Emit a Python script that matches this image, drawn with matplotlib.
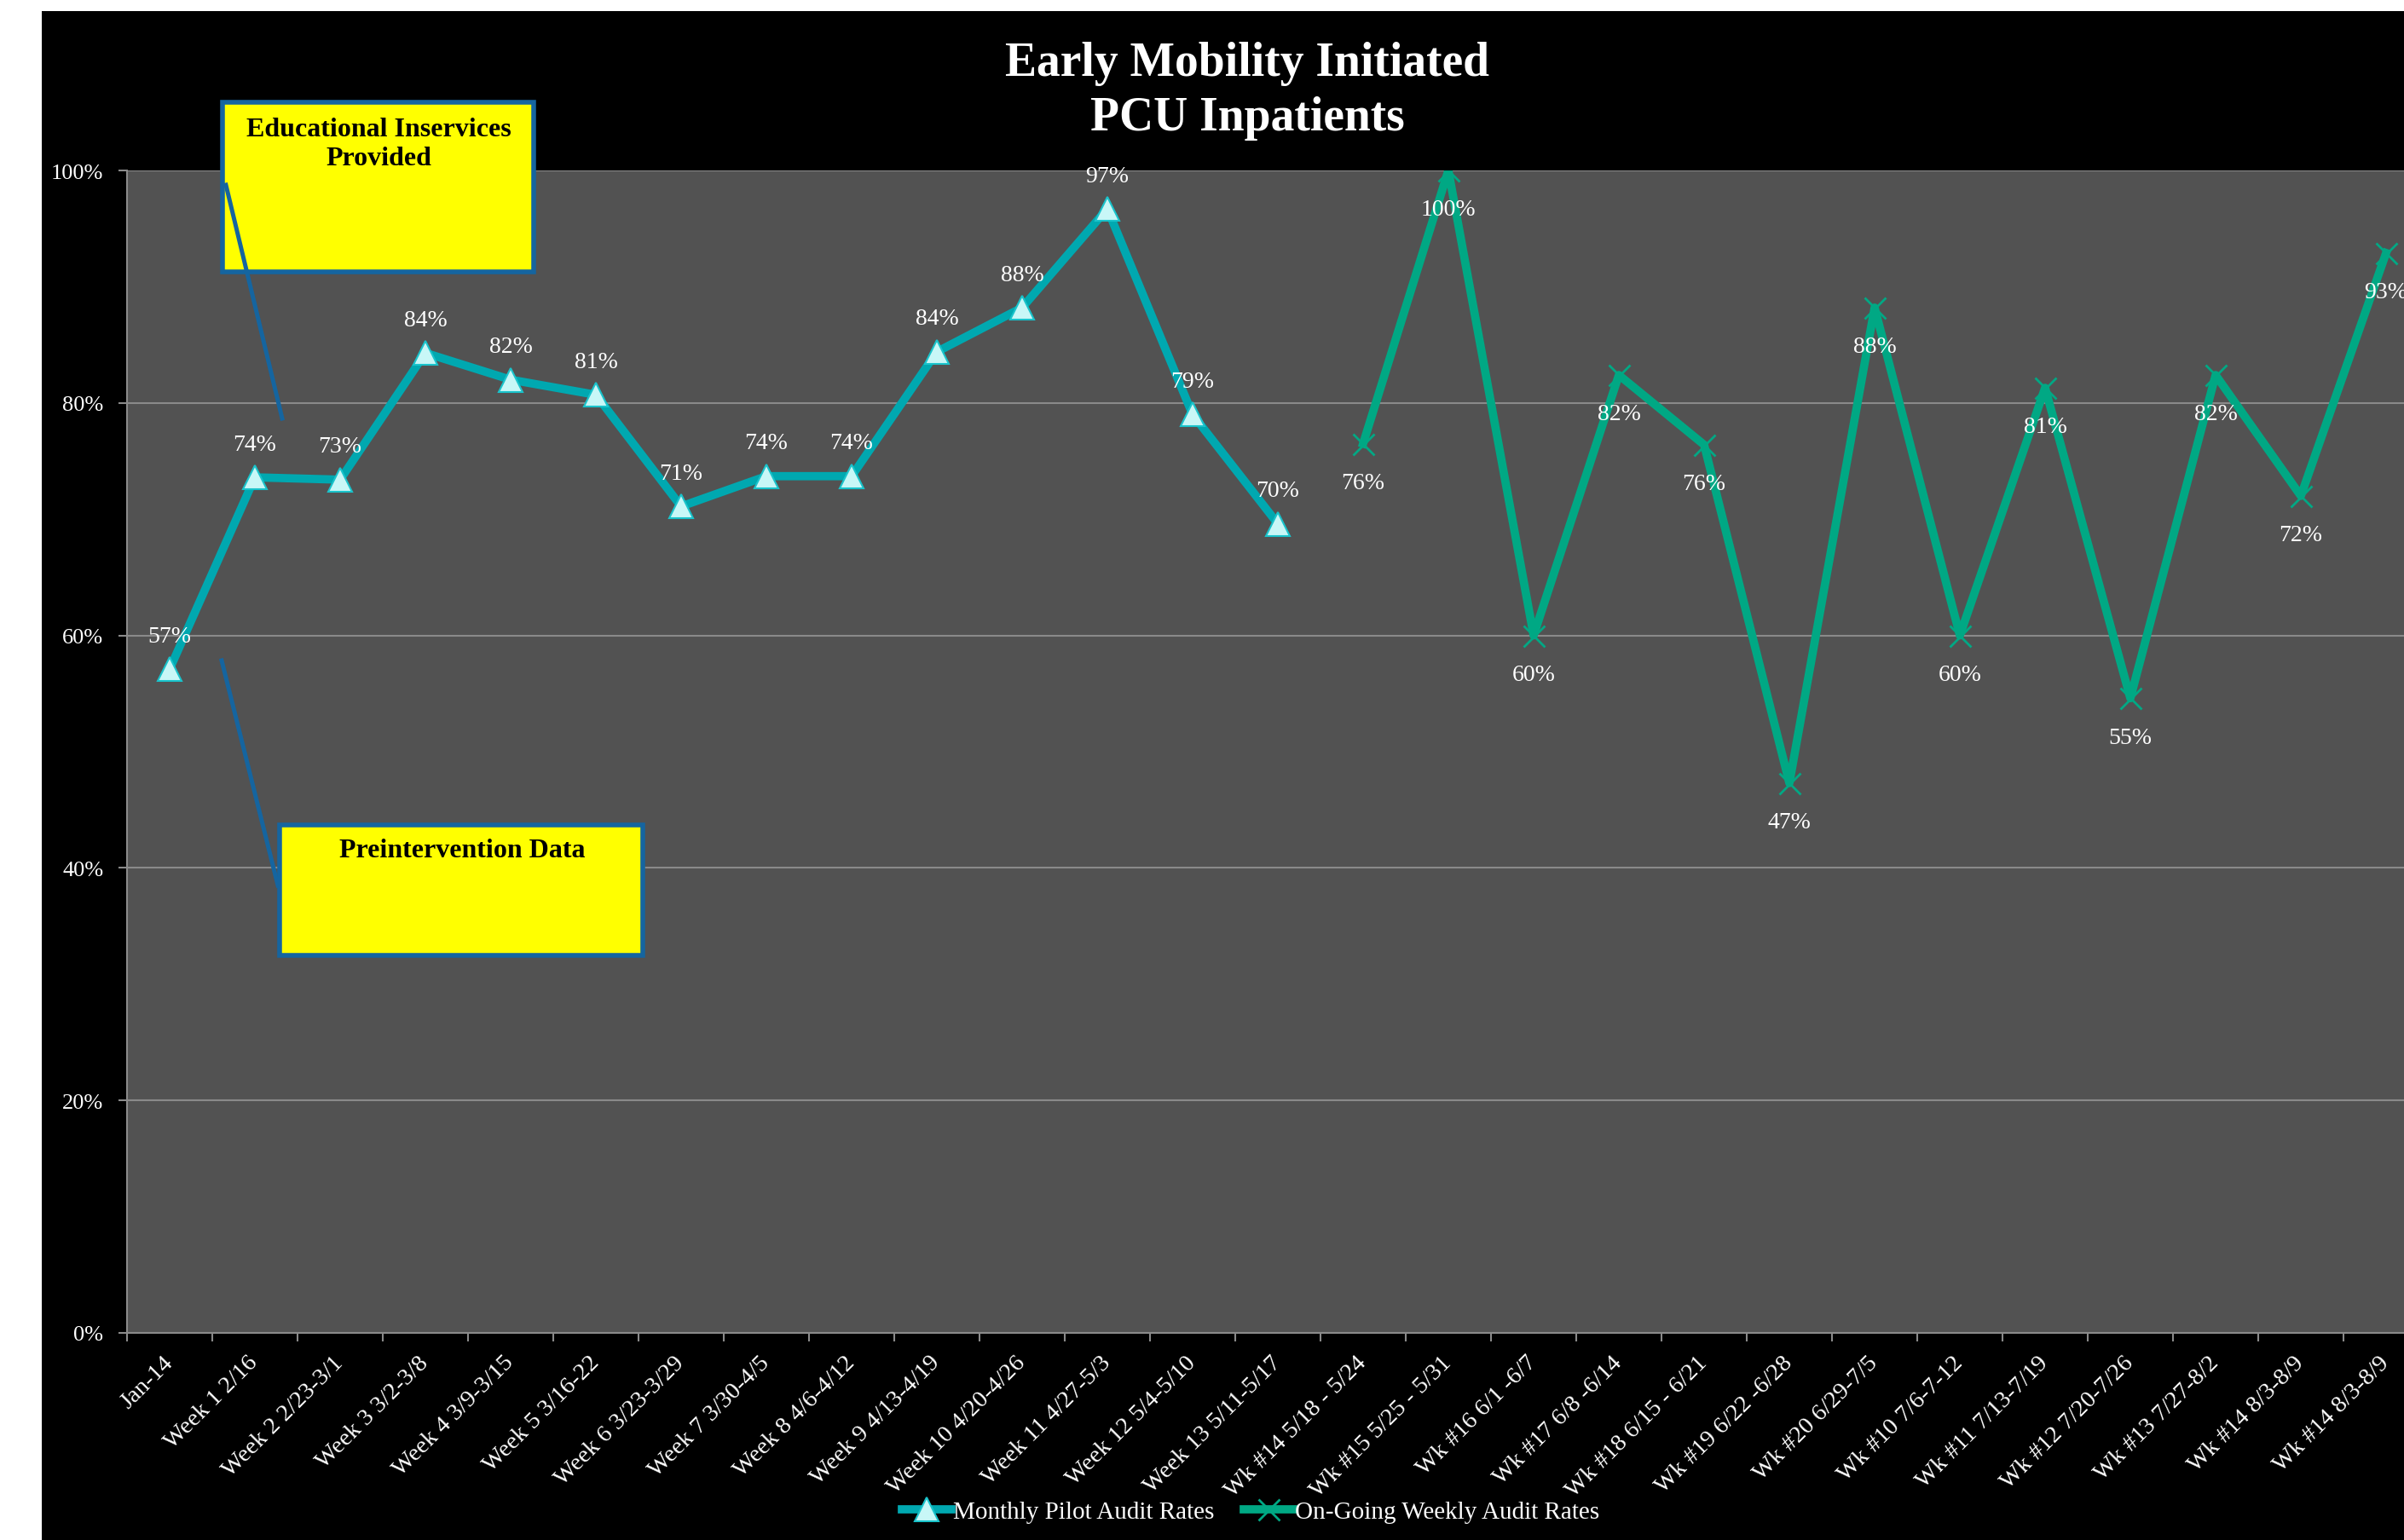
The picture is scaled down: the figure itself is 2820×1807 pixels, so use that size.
import numpy as np
import matplotlib.pyplot as plt
from matplotlib.patches import Rectangle
from matplotlib.lines import Line2D

categories = [
    'Jan-14', 'Week 1 2/16', 'Week 2 2/23-3/1', 'Week 3 3/2-3/8', 'Week 4 3/9-3/15',
    'Week 5 3/16-22', 'Week 6 3/23-3/29', 'Week 7 3/30-4/5', 'Week 8 4/6-4/12',
    'Week 9 4/13-4/19', 'Week 10 4/20-4/26', 'Week 11 4/27-5/3', 'Week 12 5/4-5/10',
    'Week 13 5/11-5/17', 'Wk #14 5/18 - 5/24', 'Wk #15 5/25 - 5/31', 'Wk #16 6/1 -6/7',
    'Wk #17 6/8 -6/14', 'Wk #18 6/15 - 6/21', 'Wk #19 6/22 -6/28', 'Wk #20 6/29-7/5',
    'Wk #10 7/6-7-12', 'Wk #11 7/13-7/19', 'Wk #12 7/20-7/26', 'Wk #13 7/27-8/2',
    'Wk #14 8/3-8/9', 'Wk #14 8/3-8/9',
]
# percent values
pilot_rates = [57.1, 73.6, 73.4, 84.3, 82.0, 80.7, 71.1, 73.7, 73.7, 84.4, 88.2, 96.7, 79.0, 69.6]
weekly_rates = [76.5, 100.0, 60.0, 82.4, 76.4, 47.3, 88.2, 60.0, 81.3, 54.6, 82.4, 72.0, 92.9]
y_ticks = [0, 20, 40, 60, 80, 100]

W, H = 2820, 1808


def fx(px):
    return px / W


def fy(py):
    return 1 - py / H


plt.rcParams['font.family'] = ['Liberation Serif', 'DejaVu Serif']

fig = plt.figure(figsize=(W / 100, H / 100), dpi=100, facecolor='white')
fig.add_artist(Rectangle((fx(49), 0), 1 - fx(49), fy(14), transform=fig.transFigure,
                         facecolor='black', edgecolor='none', zorder=-10))

ax = fig.add_axes([fx(149), fy(1565), 2700 / W, (1565 - 201) / H])
ax.set_facecolor('#525252')

pilot_x = np.arange(len(pilot_rates))
weekly_x = np.arange(len(pilot_rates), len(categories))

ax.plot(pilot_x, pilot_rates, color='#00a8b0', lw=7, marker='^', ms=20,
        mfc='#c8f7f7', mec='#19c3cb', mew=1.5, label='Monthly Pilot Audit Rates', zorder=3)
ax.plot(weekly_x, weekly_rates, color='#00a884', lw=7, marker='x', ms=18,
        mec='#00a884', mew=2, label='On-Going Weekly Audit Rates', zorder=3)

for x, v in zip(pilot_x, pilot_rates):
    ax.annotate(f'{round(v)}%', (x, v), xytext=(0, 28), textcoords='offset points',
                ha='center', va='center', color='white', fontsize=20, zorder=4)
for x, v in zip(weekly_x, weekly_rates):
    ax.annotate(f'{round(v)}%', (x, v), xytext=(0, -33), textcoords='offset points',
                ha='center', va='center', color='white', fontsize=20, zorder=4)

ax.set_xlim(-0.5, len(categories) - 0.5)
ax.set_ylim(0, 100)
ax.set_yticks(y_ticks)
ax.set_yticklabels([f'{v}%' for v in y_ticks])
ax.yaxis.grid(True, color='#8a8a8a', lw=1.5)
ax.set_axisbelow(True)

ax.set_xticks(np.arange(len(categories)))
ax.set_xticklabels(categories, rotation=45, ha='right', va='center',
                   rotation_mode='anchor', fontsize=20.5, color='white')
ax.set_xticks(np.arange(-0.5, len(categories)), minor=True)
ax.tick_params(axis='x', which='major', length=0, pad=22)
ax.tick_params(axis='x', which='minor', length=7, color='#8a8a8a', width=1.5)
ax.tick_params(axis='y', length=7, color='#8a8a8a', width=1.5, labelsize=19,
               labelcolor='white', pad=13)

for s in ['top', 'right']:
    ax.spines[s].set_visible(False)
for s in ['left', 'bottom']:
    ax.spines[s].set_color('#8a8a8a')
    ax.spines[s].set_linewidth(1.5)

fig.text(fx(1463), fy(107), 'Early Mobility Initiated\nPCU Inpatients', ha='center',
         va='center', fontsize=40, fontweight='bold', color='white', linespacing=1.32)

# callout boxes
box_edge = '#1565a0'
fig.add_artist(Rectangle((fx(261), fy(320)), fx(626) - fx(261), fy(121) - fy(320),
                         transform=fig.transFigure, facecolor='#ffff00', edgecolor=box_edge,
                         lw=4, zorder=5))
fig.add_artist(Line2D([fx(265), fx(331)], [fy(218), fy(492)], transform=fig.transFigure,
                      color=box_edge, lw=3.6, zorder=6))
fig.text(fx(444), fy(138), 'Educational Inservices\nProvided', ha='center', va='top',
         fontsize=23, fontweight='bold', color='black', linespacing=1.22, zorder=7)

fig.add_artist(Rectangle((fx(328), fy(1122)), fx(754) - fx(328), fy(969) - fy(1122),
                         transform=fig.transFigure, facecolor='#ffff00', edgecolor=box_edge,
                         lw=4, zorder=5))
fig.add_artist(Line2D([fx(260), fx(326)], [fy(776), fy(1040)], transform=fig.transFigure,
                      color=box_edge, lw=3.6, zorder=6))
fig.text(fx(542), fy(999), 'Preintervention Data', ha='center', va='center',
         fontsize=23, fontweight='bold', color='black', zorder=7)

fig.legend(loc='center', bbox_to_anchor=(fx(1467), fy(1775)), ncol=2, frameon=False,
           fontsize=21, labelcolor='white', handlelength=2.0, handletextpad=0.05,
           columnspacing=1.2)

fig.savefig('out.png', dpi=100, facecolor=fig.get_facecolor())
